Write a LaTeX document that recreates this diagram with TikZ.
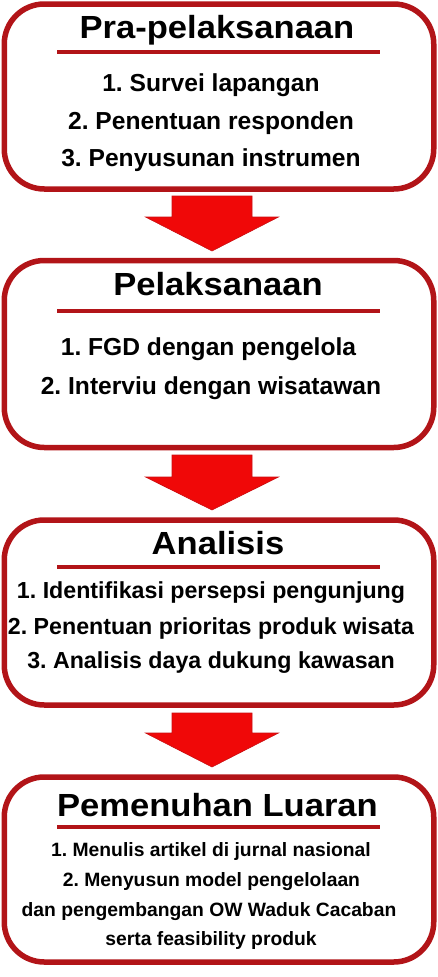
\documentclass[tikz,border=0pt]{standalone}
\usepackage{fontspec}
\setmainfont{Liberation Sans}
\newfontfamily\judulfont{Liberation Sans}[FakeStretch=1.08]
\usetikzlibrary{positioning}
\frenchspacing

\definecolor{merahtua}{RGB}{178,20,24}
\definecolor{merah}{RGB}{240,8,8}

\begin{document}
\begin{tikzpicture}[x=1pt,y=-1pt,
       kotak/.style={rectangle,rounded corners=40pt,draw=merahtua,line width=5.5pt,fill=white,
                     minimum width=429.5pt,inner sep=0pt,outer sep=0pt},
       judul/.style={anchor=base,font=\judulfont\fontsize{32}{34}\selectfont\bfseries},
       isi/.style={anchor=base,font=\fontsize{24.6}{26}\selectfont\bfseries},
       isisedang/.style={anchor=base,font=\fontsize{23.2}{25}\selectfont\bfseries},
       isikecil/.style={anchor=base,font=\fontsize{19.3}{21}\selectfont\bfseries},
       garis/.style={draw=merahtua,line width=4pt},
       panah/.style={fill=merah,draw=merahtua!70!red,line width=0.6pt,line join=miter}]
  \useasboundingbox (0,0) rectangle (437,977);

%% Boxes
  \node [kotak,minimum height=185pt] (pra)  at (219,96.5)  {};
  \node [kotak,minimum height=187pt] (lak)  at (219,354)   {};
  \node [kotak,minimum height=185pt] (ana)  at (219,612.5) {};
  \node [kotak,minimum height=185pt] (luar) at (219,869.5) {};

%% Pra-pelaksanaan
  \node [judul] (prajudul) at (217,38) {Pra-pelaksanaan};
  \draw [garis] (57,51.5) -- (380,51.5);
  \node [isi] (pra1) at (211,91)    {1. Survei lapangan};
  \node [isi] (pra2) at (211,129)   {2. Penentuan responden};
  \node [isi] (pra3) at (211,166.7) {3. Penyusunan instrumen};

%% Pelaksanaan
  \node [judul] (lakjudul) at (218,295.7) {Pelaksanaan};
  \draw [garis] (57,310.5) -- (380,310.5);
  \node [isi] (lak1) at (208.5,355.7) {1. FGD dengan pengelola};
  \node [isi] (lak2) at (211,394.3)   {2. Interviu dengan wisatawan};

%% Analisis
  \node [judul] (anajudul) at (218,554) {Analisis};
  \draw [garis] (57,566.5) -- (380,566.5);
  \node [isisedang] (ana1) at (211,598.3) {1. Identifikasi persepsi pengunjung};
  \node [isisedang] (ana2) at (211,634)   {2. Penentuan prioritas produk wisata};
  \node [isisedang] (ana3) at (211,668.3) {3. Analisis daya dukung kawasan};

%% Pemenuhan Luaran
  \node [judul] (luarjudul) at (217.5,816) {Pemenuhan Luaran};
  \draw [garis] (57,826.5) -- (380,826.5);
  \node [isikecil] (luar1) at (211,856)   {1. Menulis artikel di jurnal nasional};
  \node [isikecil] (luar2) at (211.5,886) {2. Menyusun model pengelolaan};
  \node [isikecil] (luar3) at (209,916.5) {dan pengembangan OW Waduk Cacaban};
  \node [isikecil] (luar4) at (211,945)   {serta feasibility produk};

%% Arrows
  \coordinate (p1) at (212,196);
  \coordinate (p2) at (212,455);
  \coordinate (p3) at (212,713);
  \filldraw [panah] (p1) ++(-40,0) -- ++(80,0) -- ++(0,21) -- ++(26.5,0) -- ++(-66.5,34) -- ++(-66.5,-34) -- ++(26.5,0) -- cycle;
  \filldraw [panah] (p2) ++(-40,0) -- ++(80,0) -- ++(0,22) -- ++(26.5,0) -- ++(-66.5,33) -- ++(-66.5,-33) -- ++(26.5,0) -- cycle;
  \filldraw [panah] (p3) ++(-40,0) -- ++(80,0) -- ++(0,20) -- ++(26.5,0) -- ++(-66.5,34) -- ++(-66.5,-34) -- ++(26.5,0) -- cycle;
\end{tikzpicture}
\end{document}
